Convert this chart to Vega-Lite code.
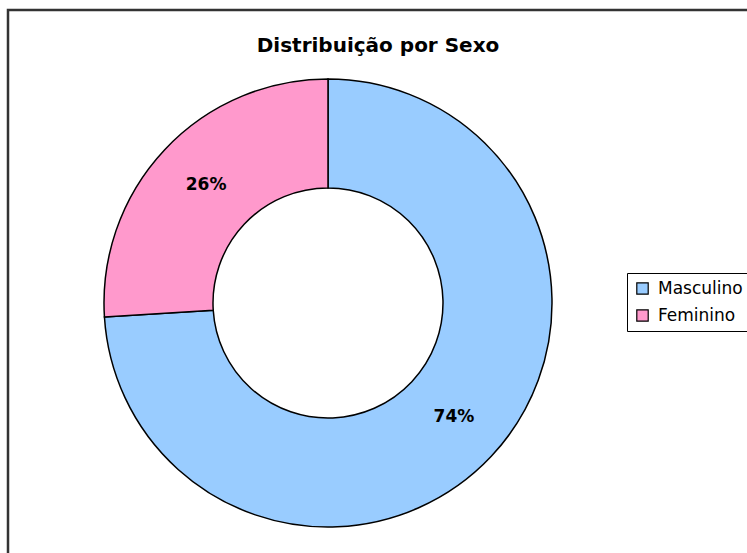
{
  "$schema": "https://vega.github.io/schema/vega-lite/v6.json",
  "autosize": {"type": "none"},
  "width": 750,
  "height": 556,
  "padding": {"left": 8, "top": 10, "right": 0, "bottom": 0},
  "background": "white",
  "title": {
    "text": "Distribuição por Sexo",
    "orient": "top",
    "anchor": "middle",
    "frame": "group",
    "offset": -63,
    "baseline": "alphabetic",
    "dx": -5,
    "font": "DejaVu Sans",
    "fontSize": 20,
    "fontWeight": "bold",
    "color": "black"
  },
  "layer": [
    {
      "data": {"values": [{"quadro": 1}]},
      "mark": {"type": "rect", "fill": null, "fillOpacity": 0, "stroke": "#333333", "strokeWidth": 2.5},
      "encoding": {
        "x": {"value": 0},
        "x2": {"value": "width"},
        "y": {"value": 0},
        "y2": {"value": "height"}
      }
    },
    {
      "data": {
        "values": [
          {"Sexo": "Masculino", "valor": 74, "ordem": 1, "rotulo": "74%"},
          {"Sexo": "Feminino", "valor": 26, "ordem": 2, "rotulo": "26%"}
        ]
      },
      "encoding": {
        "theta": {"field": "valor", "type": "quantitative", "stack": true},
        "order": {"field": "ordem", "type": "quantitative"}
      },
      "layer": [
        {
          "mark": {"type": "arc", "outerRadius": 224, "innerRadius": 115, "stroke": "black", "strokeWidth": 1.5, "xOffset": -55, "yOffset": 15},
          "encoding": {
            "color": {
              "field": "Sexo",
              "type": "nominal",
              "sort": ["Masculino", "Feminino"],
              "scale": {"domain": ["Masculino", "Feminino"], "range": ["#99CCFF", "#FF99CC"]},
              "legend": {
                "title": null,
                "orient": "none",
                "legendX": 619,
                "legendY": 263,
                "strokeColor": "black",
                "fillColor": "white",
                "padding": 7,
                "symbolType": "square",
                "symbolSize": 130,
                "symbolStrokeColor": "black",
                "symbolStrokeWidth": 1.2,
                "symbolOpacity": 1,
                "labelFont": "DejaVu Sans",
                "labelFontSize": 17,
                "labelColor": "black",
                "labelOffset": 7,
                "rowPadding": 9
              }
            }
          }
        },
        {
          "mark": {"type": "text", "radius": 170, "font": "DejaVu Sans", "fontSize": 17, "fontWeight": "bold", "color": "black", "xOffset": -53, "yOffset": 13},
          "encoding": {
            "text": {"field": "rotulo", "type": "nominal"}
          }
        }
      ]
    }
  ],
  "config": {
    "view": {"stroke": null}
  }
}
